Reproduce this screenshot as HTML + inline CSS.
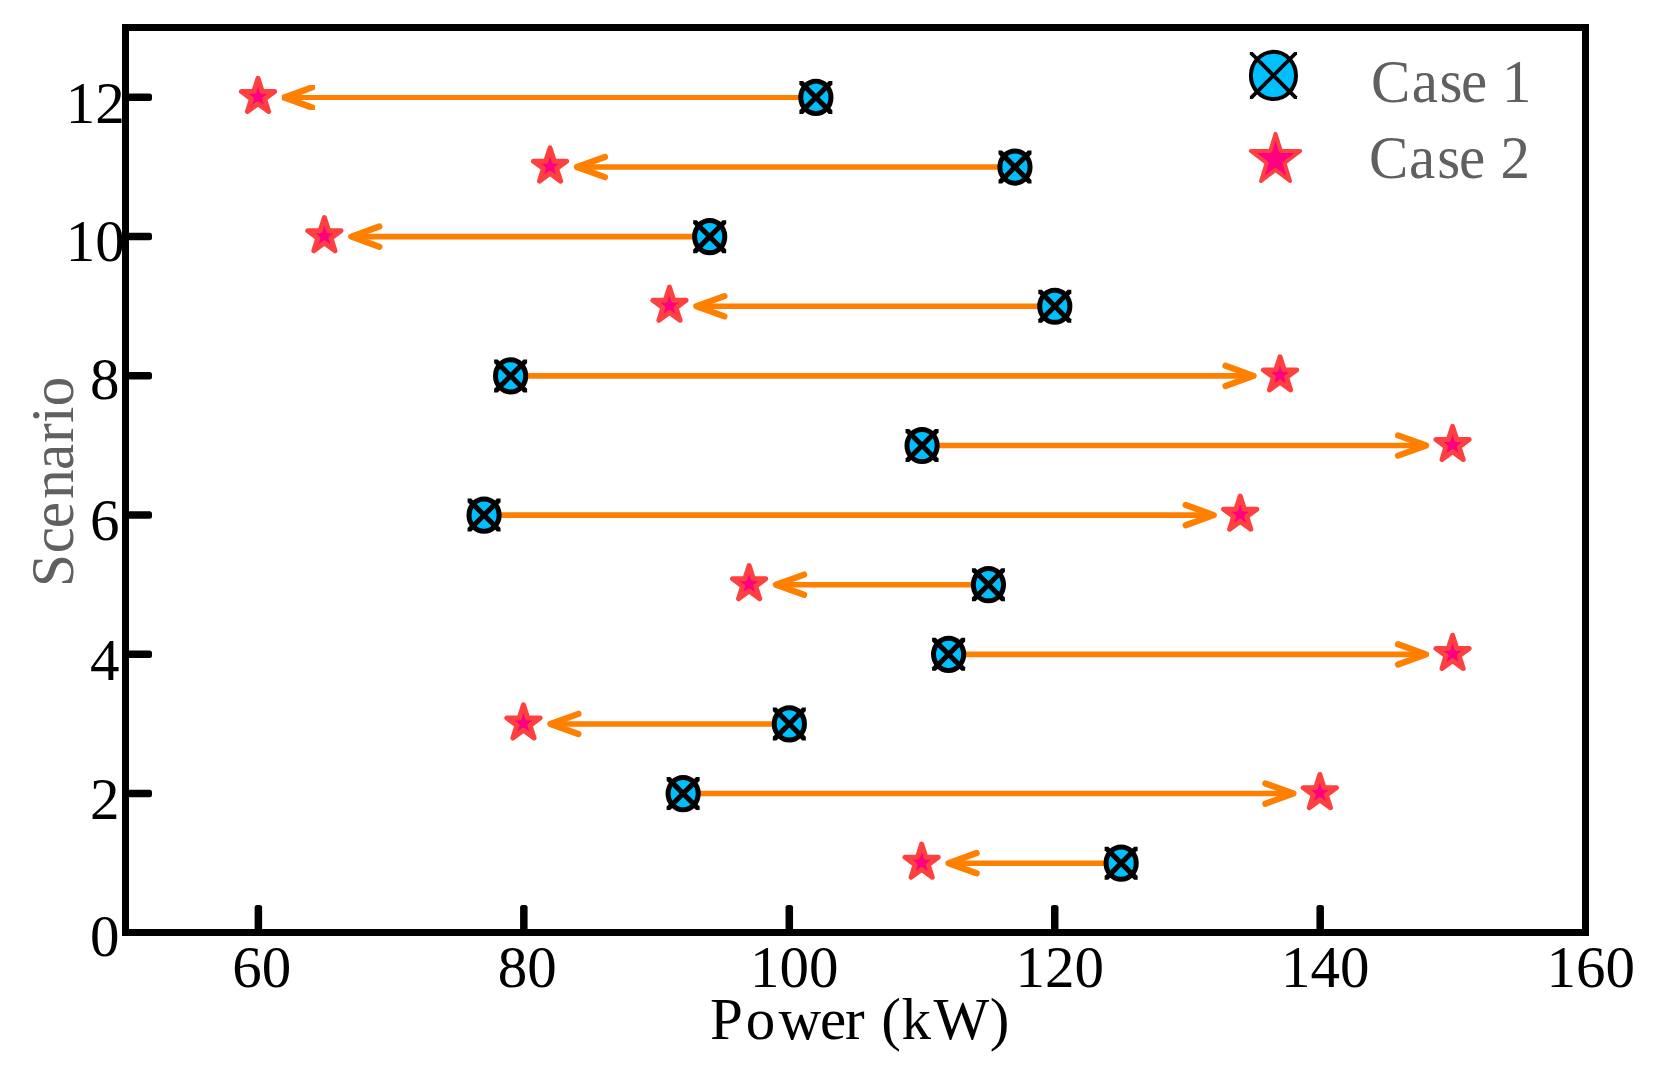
<!DOCTYPE html>
<html><head><meta charset="utf-8"><title>Scenario power chart</title>
<style>html,body{margin:0;padding:0;background:#fff}svg{display:block}text{font-family:"Liberation Serif",serif;font-size:59px;font-kerning:none}</style></head><body>
<svg width="1655" height="1070" viewBox="0 0 1655 1070">
<rect width="1655" height="1070" fill="#fff"/>
<polygon fill="#ff8000" points="281.83,94.92 309.43,84.92 315.03,84.92 315.03,89.62 301.03,94.92 815.68,94.92 815.68,99.92 301.03,99.92 315.03,105.22 315.03,109.92 309.43,109.92 281.83,99.92"/>
<path d="M1014.77 167.03H576.93" stroke="#ff8000" stroke-width="5.60" fill="none"/><path d="M604.93 156.93L576.93 167.03L604.93 177.13" stroke="#ff8000" stroke-width="6.3" stroke-linecap="round" stroke-linejoin="round" fill="none"/>
<path d="M709.50 236.65H351.29" stroke="#ff8000" stroke-width="5.60" fill="none"/><path d="M379.29 226.55L351.29 236.65L379.29 246.75" stroke="#ff8000" stroke-width="6.3" stroke-linecap="round" stroke-linejoin="round" fill="none"/>
<path d="M1054.59 306.26H696.38" stroke="#ff8000" stroke-width="5.60" fill="none"/><path d="M724.38 296.16L696.38 306.26L724.38 316.36" stroke="#ff8000" stroke-width="6.3" stroke-linecap="round" stroke-linejoin="round" fill="none"/>
<path d="M510.41 375.88H1253.53" stroke="#ff8000" stroke-width="5.60" fill="none"/><path d="M1225.53 365.78L1253.53 375.88L1225.53 385.98" stroke="#ff8000" stroke-width="6.3" stroke-linecap="round" stroke-linejoin="round" fill="none"/>
<path d="M921.86 445.49H1426.07" stroke="#ff8000" stroke-width="5.60" fill="none"/><path d="M1398.07 435.39L1426.07 445.49L1398.07 455.59" stroke="#ff8000" stroke-width="6.3" stroke-linecap="round" stroke-linejoin="round" fill="none"/>
<path d="M483.86 515.11H1213.71" stroke="#ff8000" stroke-width="5.60" fill="none"/><path d="M1185.71 505.01L1213.71 515.11L1185.71 525.21" stroke="#ff8000" stroke-width="6.3" stroke-linecap="round" stroke-linejoin="round" fill="none"/>
<path d="M988.23 584.72H776.02" stroke="#ff8000" stroke-width="5.60" fill="none"/><path d="M804.02 574.62L776.02 584.72L804.02 594.82" stroke="#ff8000" stroke-width="6.3" stroke-linecap="round" stroke-linejoin="round" fill="none"/>
<path d="M948.41 654.34H1426.07" stroke="#ff8000" stroke-width="5.60" fill="none"/><path d="M1398.07 644.24L1426.07 654.34L1398.07 664.44" stroke="#ff8000" stroke-width="6.3" stroke-linecap="round" stroke-linejoin="round" fill="none"/>
<path d="M789.14 723.95H550.38" stroke="#ff8000" stroke-width="5.60" fill="none"/><path d="M578.38 713.85L550.38 723.95L578.38 734.05" stroke="#ff8000" stroke-width="6.3" stroke-linecap="round" stroke-linejoin="round" fill="none"/>
<path d="M682.95 793.57H1293.35" stroke="#ff8000" stroke-width="5.60" fill="none"/><path d="M1265.35 783.47L1293.35 793.57L1265.35 803.67" stroke="#ff8000" stroke-width="6.3" stroke-linecap="round" stroke-linejoin="round" fill="none"/>
<path d="M1120.95 863.18H948.56" stroke="#ff8000" stroke-width="5.60" fill="none"/><path d="M976.56 853.08L948.56 863.18L976.56 873.28" stroke="#ff8000" stroke-width="6.3" stroke-linecap="round" stroke-linejoin="round" fill="none"/>
<ellipse cx="815.88" cy="97.42" rx="15.10" ry="16.10" fill="#00bfff" stroke="#000" stroke-width="5.00"/><path fill="#000" d="M799.38 80.92H802.99L832.38 110.31V113.92H828.78L799.38 84.52Z"/><path fill="#000" d="M832.38 80.92H828.78L799.38 110.31V113.92H802.99L832.38 84.52Z"/>
<path d="M258.03 78.32 L262.24 91.52 L274.63 91.52 L264.60 98.89 L268.63 111.52 L258.03 103.72 L247.43 111.52 L251.46 98.89 L241.43 91.52 L253.81 91.52Z" fill="#ff0080" stroke="#ff4040" stroke-width="5.00" stroke-linejoin="round"/>
<ellipse cx="1014.97" cy="167.03" rx="15.10" ry="16.10" fill="#00bfff" stroke="#000" stroke-width="5.00"/><path fill="#000" d="M998.47 150.53H1002.08L1031.47 179.92V183.53H1027.87L998.47 154.14Z"/><path fill="#000" d="M1031.47 150.53H1027.87L998.47 179.92V183.53H1002.08L1031.47 154.14Z"/>
<path d="M550.03 147.93 L554.24 161.13 L566.63 161.13 L556.60 168.51 L560.63 181.13 L550.03 173.34 L539.43 181.13 L543.46 168.51 L533.43 161.13 L545.81 161.13Z" fill="#ff0080" stroke="#ff4040" stroke-width="5.00" stroke-linejoin="round"/>
<ellipse cx="709.70" cy="236.65" rx="15.10" ry="16.10" fill="#00bfff" stroke="#000" stroke-width="5.00"/><path fill="#000" d="M693.20 220.15H696.81L726.20 249.54V253.15H722.59L693.20 223.75Z"/><path fill="#000" d="M726.20 220.15H722.59L693.20 249.54V253.15H696.81L726.20 223.75Z"/>
<path d="M324.39 217.55 L328.61 230.75 L340.99 230.75 L330.96 238.12 L334.99 250.75 L324.39 242.95 L313.79 250.75 L317.82 238.12 L307.79 230.75 L320.18 230.75Z" fill="#ff0080" stroke="#ff4040" stroke-width="5.00" stroke-linejoin="round"/>
<ellipse cx="1054.79" cy="306.26" rx="15.10" ry="16.10" fill="#00bfff" stroke="#000" stroke-width="5.00"/><path fill="#000" d="M1038.29 289.76H1041.90L1071.29 319.16V322.76H1067.68L1038.29 293.37Z"/><path fill="#000" d="M1071.29 289.76H1067.68L1038.29 319.16V322.76H1041.90L1071.29 293.37Z"/>
<path d="M669.48 287.16 L673.70 300.36 L686.08 300.36 L676.05 307.74 L680.08 320.36 L669.48 312.57 L658.88 320.36 L662.91 307.74 L652.88 300.36 L665.27 300.36Z" fill="#ff0080" stroke="#ff4040" stroke-width="5.00" stroke-linejoin="round"/>
<ellipse cx="510.61" cy="375.88" rx="15.10" ry="16.10" fill="#00bfff" stroke="#000" stroke-width="5.00"/><path fill="#000" d="M494.11 359.38H497.72L527.11 388.77V392.38H523.50L494.11 362.98Z"/><path fill="#000" d="M527.11 359.38H523.50L494.11 388.77V392.38H497.72L527.11 362.98Z"/>
<path d="M1280.03 356.78 L1284.24 369.98 L1296.63 369.98 L1286.60 377.35 L1290.63 389.98 L1280.03 382.18 L1269.43 389.98 L1273.46 377.35 L1263.43 369.98 L1275.81 369.98Z" fill="#ff0080" stroke="#ff4040" stroke-width="5.00" stroke-linejoin="round"/>
<ellipse cx="922.06" cy="445.49" rx="15.10" ry="16.10" fill="#00bfff" stroke="#000" stroke-width="5.00"/><path fill="#000" d="M905.56 428.99H909.17L938.56 458.39V461.99H934.96L905.56 432.60Z"/><path fill="#000" d="M938.56 428.99H934.96L905.56 458.39V461.99H909.17L938.56 432.60Z"/>
<path d="M1452.57 426.39 L1456.79 439.59 L1469.17 439.59 L1459.14 446.97 L1463.17 459.59 L1452.57 451.80 L1441.97 459.59 L1446.00 446.97 L1435.97 439.59 L1448.36 439.59Z" fill="#ff0080" stroke="#ff4040" stroke-width="5.00" stroke-linejoin="round"/>
<ellipse cx="484.06" cy="515.11" rx="15.10" ry="16.10" fill="#00bfff" stroke="#000" stroke-width="5.00"/><path fill="#000" d="M467.56 498.61H471.17L500.56 528.00V531.61H496.96L467.56 502.21Z"/><path fill="#000" d="M500.56 498.61H496.96L467.56 528.00V531.61H471.17L500.56 502.21Z"/>
<path d="M1240.21 496.01 L1244.42 509.21 L1256.81 509.21 L1246.78 516.58 L1250.81 529.21 L1240.21 521.41 L1229.61 529.21 L1233.64 516.58 L1223.61 509.21 L1235.99 509.21Z" fill="#ff0080" stroke="#ff4040" stroke-width="5.00" stroke-linejoin="round"/>
<ellipse cx="988.43" cy="584.72" rx="15.10" ry="16.10" fill="#00bfff" stroke="#000" stroke-width="5.00"/><path fill="#000" d="M971.93 568.22H975.53L1004.93 597.62V601.22H1001.32L971.93 571.83Z"/><path fill="#000" d="M1004.93 568.22H1001.32L971.93 597.62V601.22H975.53L1004.93 571.83Z"/>
<path d="M749.12 565.62 L753.33 578.82 L765.72 578.82 L755.69 586.20 L759.72 598.82 L749.12 591.03 L738.52 598.82 L742.55 586.20 L732.52 578.82 L744.90 578.82Z" fill="#ff0080" stroke="#ff4040" stroke-width="5.00" stroke-linejoin="round"/>
<ellipse cx="948.61" cy="654.34" rx="15.10" ry="16.10" fill="#00bfff" stroke="#000" stroke-width="5.00"/><path fill="#000" d="M932.11 637.84H935.72L965.11 667.23V670.84H961.50L932.11 641.44Z"/><path fill="#000" d="M965.11 637.84H961.50L932.11 667.23V670.84H935.72L965.11 641.44Z"/>
<path d="M1452.57 635.24 L1456.79 648.44 L1469.17 648.44 L1459.14 655.81 L1463.17 668.44 L1452.57 660.64 L1441.97 668.44 L1446.00 655.81 L1435.97 648.44 L1448.36 648.44Z" fill="#ff0080" stroke="#ff4040" stroke-width="5.00" stroke-linejoin="round"/>
<ellipse cx="789.34" cy="723.95" rx="15.10" ry="16.10" fill="#00bfff" stroke="#000" stroke-width="5.00"/><path fill="#000" d="M772.84 707.45H776.44L805.84 736.85V740.45H802.23L772.84 711.06Z"/><path fill="#000" d="M805.84 707.45H802.23L772.84 736.85V740.45H776.44L805.84 711.06Z"/>
<path d="M523.48 704.85 L527.70 718.05 L540.08 718.05 L530.05 725.43 L534.08 738.05 L523.48 730.26 L512.88 738.05 L516.91 725.43 L506.88 718.05 L519.27 718.05Z" fill="#ff0080" stroke="#ff4040" stroke-width="5.00" stroke-linejoin="round"/>
<ellipse cx="683.15" cy="793.57" rx="15.10" ry="16.10" fill="#00bfff" stroke="#000" stroke-width="5.00"/><path fill="#000" d="M666.65 777.07H670.26L699.65 806.46V810.07H696.05L666.65 780.68Z"/><path fill="#000" d="M699.65 777.07H696.05L666.65 806.46V810.07H670.26L699.65 780.68Z"/>
<path d="M1319.85 774.47 L1324.06 787.67 L1336.45 787.67 L1326.41 795.04 L1330.45 807.67 L1319.85 799.88 L1309.25 807.67 L1313.28 795.04 L1303.25 787.67 L1315.63 787.67Z" fill="#ff0080" stroke="#ff4040" stroke-width="5.00" stroke-linejoin="round"/>
<ellipse cx="1121.15" cy="863.18" rx="15.10" ry="16.10" fill="#00bfff" stroke="#000" stroke-width="5.00"/><path fill="#000" d="M1104.65 846.68H1108.26L1137.65 876.08V879.68H1134.05L1104.65 850.29Z"/><path fill="#000" d="M1137.65 846.68H1134.05L1104.65 876.08V879.68H1108.26L1137.65 850.29Z"/>
<path d="M921.66 844.08 L925.88 857.28 L938.26 857.28 L928.23 864.66 L932.26 877.28 L921.66 869.49 L911.06 877.28 L915.09 864.66 L905.06 857.28 L917.45 857.28Z" fill="#ff0080" stroke="#ff4040" stroke-width="5.00" stroke-linejoin="round"/>
<rect x="125.5" y="27.5" width="1460.0" height="905.0" fill="none" stroke="#000" stroke-width="7"/>
<rect x="254.63" y="905.00" width="7.5" height="26.00" rx="2.5" fill="#000"/>
<rect x="520.08" y="905.00" width="7.5" height="26.00" rx="2.5" fill="#000"/>
<rect x="785.54" y="905.00" width="7.5" height="26.00" rx="2.5" fill="#000"/>
<rect x="1050.99" y="905.00" width="7.5" height="26.00" rx="2.5" fill="#000"/>
<rect x="1316.45" y="905.00" width="7.5" height="26.00" rx="2.5" fill="#000"/>
<rect x="127.00" y="789.72" width="25.00" height="7.5" rx="2.5" fill="#000"/>
<rect x="127.00" y="650.49" width="25.00" height="7.5" rx="2.5" fill="#000"/>
<rect x="127.00" y="511.26" width="25.00" height="7.5" rx="2.5" fill="#000"/>
<rect x="127.00" y="372.03" width="25.00" height="7.5" rx="2.5" fill="#000"/>
<rect x="127.00" y="232.80" width="25.00" height="7.5" rx="2.5" fill="#000"/>
<rect x="127.00" y="93.57" width="25.00" height="7.5" rx="2.5" fill="#000"/>
<text x="261.73" y="986.5" text-anchor="middle">60</text>
<text x="527.18" y="986.5" text-anchor="middle">80</text>
<text x="794.34" y="986.5" text-anchor="middle">100</text>
<text x="1059.79" y="986.5" text-anchor="middle">120</text>
<text x="1325.25" y="986.5" text-anchor="middle">140</text>
<text x="1590.70" y="986.5" text-anchor="middle">160</text>
<text x="119.6" y="956.40" text-anchor="end">0</text>
<text x="119.6" y="819.27" text-anchor="end">2</text>
<text x="119.6" y="679.84" text-anchor="end">4</text>
<text x="119.6" y="539.71" text-anchor="end">6</text>
<text x="119.6" y="399.48" text-anchor="end">8</text>
<text x="124.7" y="261.05" text-anchor="end">10</text>
<text x="124.7" y="123.12" text-anchor="end">12</text>
<text x="710 745.8 778.5 819.9 845.1 865.7 881.3 901.6 933.5 989.8" y="1039">Power (kW)</text>
<text transform="translate(73 586.95) rotate(-90) scale(1 1.035)" x="0 33.65 58.75 88.25 117.05 144.2 164.05 180.8" y="0" fill="#606060">Scenario</text>
<ellipse cx="1273.45" cy="75.45" rx="22.55" ry="23.60" fill="#00bfff" stroke="#000" stroke-width="4.00"/><path fill="#000" d="M1249.90 51.90H1252.59L1297.00 96.31V99.00H1294.31L1249.90 54.59Z"/><path fill="#000" d="M1297.00 51.90H1294.31L1249.90 96.31V99.00H1252.59L1297.00 54.59Z"/>
<path d="M1275.55 133.85 L1280.78 150.90 L1300.20 150.90 L1284.49 162.99 L1290.02 181.00 L1275.55 169.87 L1261.08 181.00 L1266.61 162.99 L1250.90 150.90 L1270.32 150.90Z" fill="#ff0080" stroke="#ff4040" stroke-width="4.00" stroke-linejoin="round"/>
<text transform="translate(0 102) scale(1 1.035)" x="1370.9 1411.7 1439.5 1461 1486 1502" y="0" fill="#606060">Case 1</text>
<text transform="translate(0 177.6) scale(1 1.035)" x="1369 1408.9 1437.3 1458.9 1484 1500.5" y="0" fill="#606060">Case 2</text>
</svg></body></html>
